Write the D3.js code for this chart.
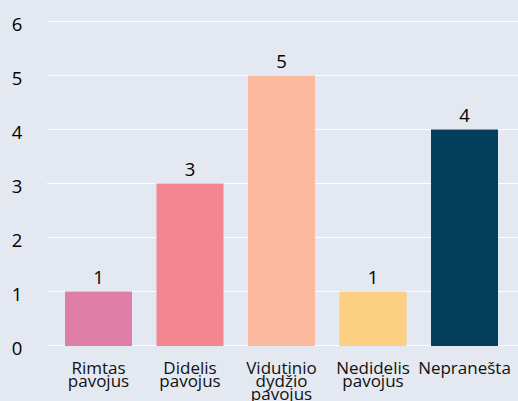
<!DOCTYPE html>
<html><head><meta charset="utf-8">
<script src="https://cdn.jsdelivr.net/npm/d3@7"></script>
<style>body{margin:0;background:#e4e8f0;}svg{display:block;}</style>
</head><body>
<script>
const categories = [["Rimtas","pavojus"],["Didelis","pavojus"],["Vidutinio","dydžio","pavojus"],["Nedidelis","pavojus"],["Nepranešta"]];
const values = [1,3,5,1,4];
const colors = ["#de7ea6","#f48690","#fbb99d","#fdcf82","#033e5c"];
const yTicks = [0,1,2,3,4,5,6];

const W=518,H=401;
const svg=d3.select("body").append("svg").attr("width",W).attr("height",H);
svg.append("rect").attr("width",W).attr("height",H).attr("fill","#e4e8f0");
const font="'Open Sans', 'Noto Sans', sans-serif";
const x=d3.scaleBand().domain(d3.range(values.length)).range([52.75,510.25]).paddingInner(0.268).paddingOuter(0.134);
const y=d3.scaleLinear().domain([0,6]).range([345.5,21.5]);

svg.append("g").selectAll("line").data(yTicks).join("line")
 .attr("x1",47).attr("x2",W).attr("y1",d=>y(d)).attr("y2",d=>y(d))
 .attr("stroke","#ffffff").attr("stroke-width",1.2);
svg.append("g").selectAll("text").data(yTicks).join("text")
 .attr("x",17).attr("y",d=>y(d)+9.5).attr("text-anchor","middle")
 .attr("font-family",font).attr("font-size",18.5).attr("fill","#000").text(d=>d);

svg.append("g").selectAll("rect").data(values).join("rect")
 .attr("x",(d,i)=>x(i)).attr("width",x.bandwidth())
 .attr("y",d=>y(d)).attr("height",d=>y(0)-y(d)+0.5).attr("fill",(d,i)=>colors[i]);
svg.append("g").selectAll("text").data(values).join("text")
 .attr("x",(d,i)=>x(i)+x.bandwidth()/2).attr("y",d=>y(d)-8).attr("text-anchor","middle")
 .attr("font-family",font).attr("font-size",18.5).attr("fill","#000").text(d=>d);

const lab=svg.append("g").selectAll("text").data(categories).join("text")
 .attr("x",(d,i)=>x(i)+x.bandwidth()/2).attr("y",374).attr("text-anchor","middle")
 .attr("font-family",font).attr("font-size",17).attr("fill","#111");
lab.selectAll("tspan").data(d=>d).join("tspan")
 .attr("x",function(){return this.parentNode.getAttribute("x");})
 .attr("dy",(d,i)=>i===0?0:12.8).text(d=>d);
</script>
</body></html>
